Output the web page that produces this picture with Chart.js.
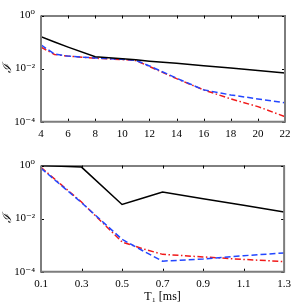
<!DOCTYPE html>
<html lang="en">
  <head>
    <meta charset="UTF-8" />
    <title>Error vs T2 and T1</title>
    <script src="https://cdn.jsdelivr.net/npm/chart.js"></script>
    <style>
      html, body { margin: 0; padding: 0; background: #fff; }
      #topWrap { position: absolute; left: 0; top: 0; width: 297px; height: 150px; }
      #botWrap { position: absolute; left: 0; top: 150px; width: 297px; height: 157px; }
    </style>
  </head>
  <body>
    <div id="topWrap"><canvas id="topChart" width="297" height="150"></canvas></div>
    <div id="botWrap"><canvas id="botChart" width="297" height="157"></canvas></div>

    <script>
      // top panel: x from 4 to 22
      const t2Values = [4, 5, 6, 8, 10, 11, 12, 14, 16, 18, 20, 22];
      const t2Black = [0.158, 0.1, 0.0646, 0.0282, 0.0234, 0.0214, 0.0191, 0.0158, 0.0129, 0.0105, 0.0085, 0.0068];
      const t2Blue = [0.0776, 0.0355, 0.0295, 0.0251, 0.0224, 0.0204, 0.0126, 0.00437, 0.00158, 0.00102, 0.00072, 0.00052];
      const t2Red = [0.0646, 0.0339, 0.0295, 0.0245, 0.0219, 0.02, 0.012, 0.00417, 0.00158, 0.00072, 0.00037, 0.000155];
      const t2Ticks = [4, 6, 8, 10, 12, 14, 16, 18, 20, 22];

      // bottom panel: T1 in ms
      const t1Values = [0.1, 0.3, 0.5, 0.6, 0.7, 0.9, 1.1, 1.3];
      const t1Black = [1.0, 0.87, 0.034, 0.058, 0.1, 0.056, 0.0316, 0.0178];
      const t1Blue = [0.79, 0.04, 0.00166, 0.00063, 0.00025, 0.0003, 0.0004, 0.00051];
      const t1Red = [0.85, 0.042, 0.00132, 0.00074, 0.00045, 0.00036, 0.00029, 0.00024];
      const t1Ticks = [0.1, 0.3, 0.5, 0.7, 0.9, 1.1, 1.3];

      const yTicks = [1e-4, 1e-2, 1];
      const yTickLabels = ['10⁻⁴', '10⁻²', '10⁰'];

      const serif = "'Liberation Serif', 'DejaVu Serif', serif";

      const framePlugin = {
        id: 'frame',
        afterDatasetsDraw(chart) {
          const { ctx, chartArea: a, scales } = chart;
          const x = scales.x, y = scales.y;
          ctx.save();
          ctx.strokeStyle = '#000';
          ctx.lineWidth = 1;
          ctx.beginPath();
          x.ticks.forEach((t) => {
            const px = Math.round(x.getPixelForValue(t.value)) + 0.5;
            ctx.moveTo(px, a.bottom); ctx.lineTo(px, a.bottom - 3);
            ctx.moveTo(px, a.top); ctx.lineTo(px, a.top + 3);
          });
          y.ticks.forEach((t) => {
            const py = Math.round(y.getPixelForValue(t.value)) + 0.5;
            ctx.moveTo(a.left, py); ctx.lineTo(a.left + 3, py);
            ctx.moveTo(a.right, py); ctx.lineTo(a.right - 3, py);
          });
          ctx.stroke();
          // box
          ctx.beginPath();
          ctx.moveTo(a.left, a.top + 0.5); ctx.lineTo(a.right, a.top + 0.5);
          ctx.stroke();
          ctx.strokeStyle = '#7d7d7d';
          ctx.lineWidth = 2;
          ctx.beginPath();
          ctx.moveTo(a.left, a.top); ctx.lineTo(a.left, a.bottom);
          ctx.lineTo(a.right, a.bottom); ctx.lineTo(a.right, a.top);
          ctx.stroke();
          ctx.restore();
        },
      };

      function makeChart(id, xs, black, blue, red, xTicks, xMin, xMax, fmt, xHeight, xTitle) {
        const pts = (arr) => xs.map((v, i) => ({ x: v, y: arr[i] }));
        return new Chart(document.getElementById(id), {
          type: 'line',
          data: {
            datasets: [
              { data: pts(black), borderColor: '#000', borderWidth: 1.5 },
              { data: pts(blue), borderColor: 'rgb(35,70,255)', borderWidth: 1.5, borderDash: [6, 3] },
              { data: pts(red), borderColor: 'rgb(240,25,25)', borderWidth: 1.5, borderDash: [6, 2.5, 1.5, 2.5] },
            ],
          },
          options: {
            responsive: false,
            animation: false,
            layout: { padding: { top: 15.5, right: 12, left: 0, bottom: 0 } },
            elements: { point: { radius: 0 }, line: { tension: 0 } },
            plugins: { legend: { display: false }, tooltip: { enabled: false } },
            scales: {
              x: {
                type: 'linear',
                min: xMin,
                max: xMax,
                grid: { display: false, drawTicks: false },
                border: { display: false },
                afterBuildTicks: (s) => { s.ticks = xTicks.map((v) => ({ value: v })); },
                afterFit: (s) => { s.height = xHeight; },
                ticks: {
                  color: '#000',
                  padding: 6,
                  maxRotation: 0,
                  font: { family: serif, size: 11 },
                  callback: fmt,
                },
                title: {
                  display: !!xTitle,
                  text: xTitle || '',
                  color: '#000',
                  font: { family: serif, size: 12 },
                  padding: { top: 0, bottom: 3 },
                },
              },
              y: {
                type: 'logarithmic',
                min: 1e-4,
                max: 1,
                grid: { display: false, drawTicks: false },
                border: { display: false },
                afterBuildTicks: (s) => { s.ticks = yTicks.map((v) => ({ value: v })); },
                afterFit: (s) => { s.width = 41; },
                ticks: {
                  color: '#000',
                  padding: 6,
                  font: { family: serif, size: 11 },
                  callback: (v, i) => yTickLabels[i],
                },
                title: {
                  display: true,
                  text: 'ℐ',
                  color: '#000',
                  font: { family: serif, size: 12, style: 'italic' },
                  padding: { top: 1, bottom: 0 },
                },
              },
            },
          },
          plugins: [framePlugin],
        });
      }

      makeChart('topChart', t2Values, t2Black, t2Blue, t2Red, t2Ticks, 4, 22,
        (v) => String(v), 28.3, null);
      makeChart('botChart', t1Values, t1Black, t1Blue, t1Red, t1Ticks, 0.1, 1.3,
        (v) => v.toFixed(1), 35.3, 'T₁ [ms]');
    </script>
  </body>
</html>
